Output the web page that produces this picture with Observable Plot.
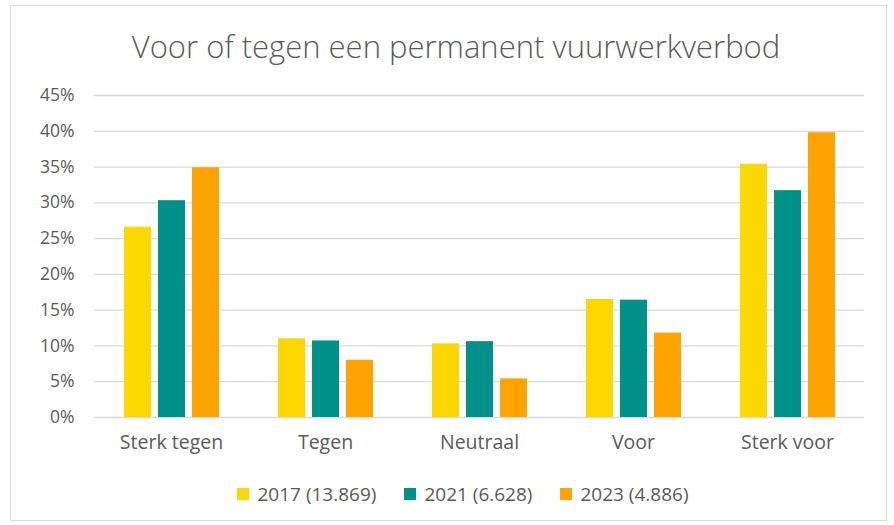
<!DOCTYPE html>
<html>
<head>
<meta charset="utf-8">
<script src="https://cdn.jsdelivr.net/npm/d3@7"></script>
<script src="https://cdn.jsdelivr.net/npm/@observablehq/plot@0.6"></script>
<style>
  body { margin: 0; background: #fff; font-family: "Open Sans", sans-serif; color: #595959; }
  #wrap { position: relative; width: 894px; height: 525px; overflow: hidden; }
  #frame { position: absolute; left: 10px; top: 5px; width: 877px; height: 516px; border: 1px solid #d9d9d9; box-sizing: border-box; }
  #title { position: absolute; left: 9px; top: 25px; width: 894px; text-align: center; font-size: 31px; font-weight: 300; color: #595959; line-height: 42px; }
  #chart { position: absolute; left: 0; top: 80px; }
  #legend { position: absolute; left: 16px; top: 481px; width: 894px; display: flex; justify-content: center; gap: 28px; font-size: 19px; line-height: 26px; }
  .item { display: flex; align-items: center; gap: 8px; }
  .sw { width: 12px; height: 12px; display: inline-block; }
</style>
</head>
<body>
<div id="wrap">
  <div id="frame"></div>
  <div id="title">Voor of tegen een permanent vuurwerkverbod</div>
  <div id="chart"></div>
  <div id="legend"></div>
</div>
<script>
const categories = ["Sterk tegen", "Tegen", "Neutraal", "Voor", "Sterk voor"];
const years = ["2017 (13.869)", "2021 (6.628)", "2023 (4.886)"];
const v2017 = [26.6, 11.0, 10.3, 16.5, 35.4];
const v2021 = [30.3, 10.7, 10.6, 16.4, 31.7];
const v2023 = [34.9, 8.0, 5.4, 11.8, 39.8];
const colors = ["#FDD800", "#00918A", "#FFA300"];
const yTicks = [0, 5, 10, 15, 20, 25, 30, 35, 40, 45];

const series = [v2017, v2021, v2023];
const data = [];
categories.forEach((c, i) => {
  years.forEach((y, j) => data.push({category: c, year: y, value: series[j][i]}));
});

const chart = Plot.plot({
  width: 894,
  height: 390,
  marginTop: 15,
  marginBottom: 53,
  marginLeft: 93,
  marginRight: 29,
  style: {fontFamily: "'Open Sans', sans-serif", fontSize: "17px", color: "#595959", background: "transparent"},
  fx: {domain: categories, padding: 0, label: null},
  x: {domain: years, paddingInner: 0.21, paddingOuter: 0.855, axis: null},
  y: {domain: [0, 45], label: null},
  color: {domain: years, range: colors},
  marks: [
    Plot.ruleY(yTicks, {stroke: "#d9d9d9", strokeWidth: 1.3}),
    Plot.barY(data, {fx: "category", x: "year", y: "value", fill: "year"}),
    Plot.axisY({ticks: yTicks, tickSize: 0, tickPadding: 20, tickFormat: d => d + "%", fill: "#595959", fontSize: 17.5, label: null}),
    Plot.axisFx({anchor: "bottom", tickSize: 0, tickPadding: 18, fill: "#595959", fontSize: 19.5, label: null})
  ]
});
document.getElementById("chart").appendChild(chart);

const legend = document.getElementById("legend");
years.forEach((y, j) => {
  const it = document.createElement("div");
  it.className = "item";
  const sw = document.createElement("span");
  sw.className = "sw";
  sw.style.background = colors[j];
  const t = document.createElement("span");
  t.textContent = y;
  it.appendChild(sw); it.appendChild(t);
  legend.appendChild(it);
});
</script>
</body>
</html>
